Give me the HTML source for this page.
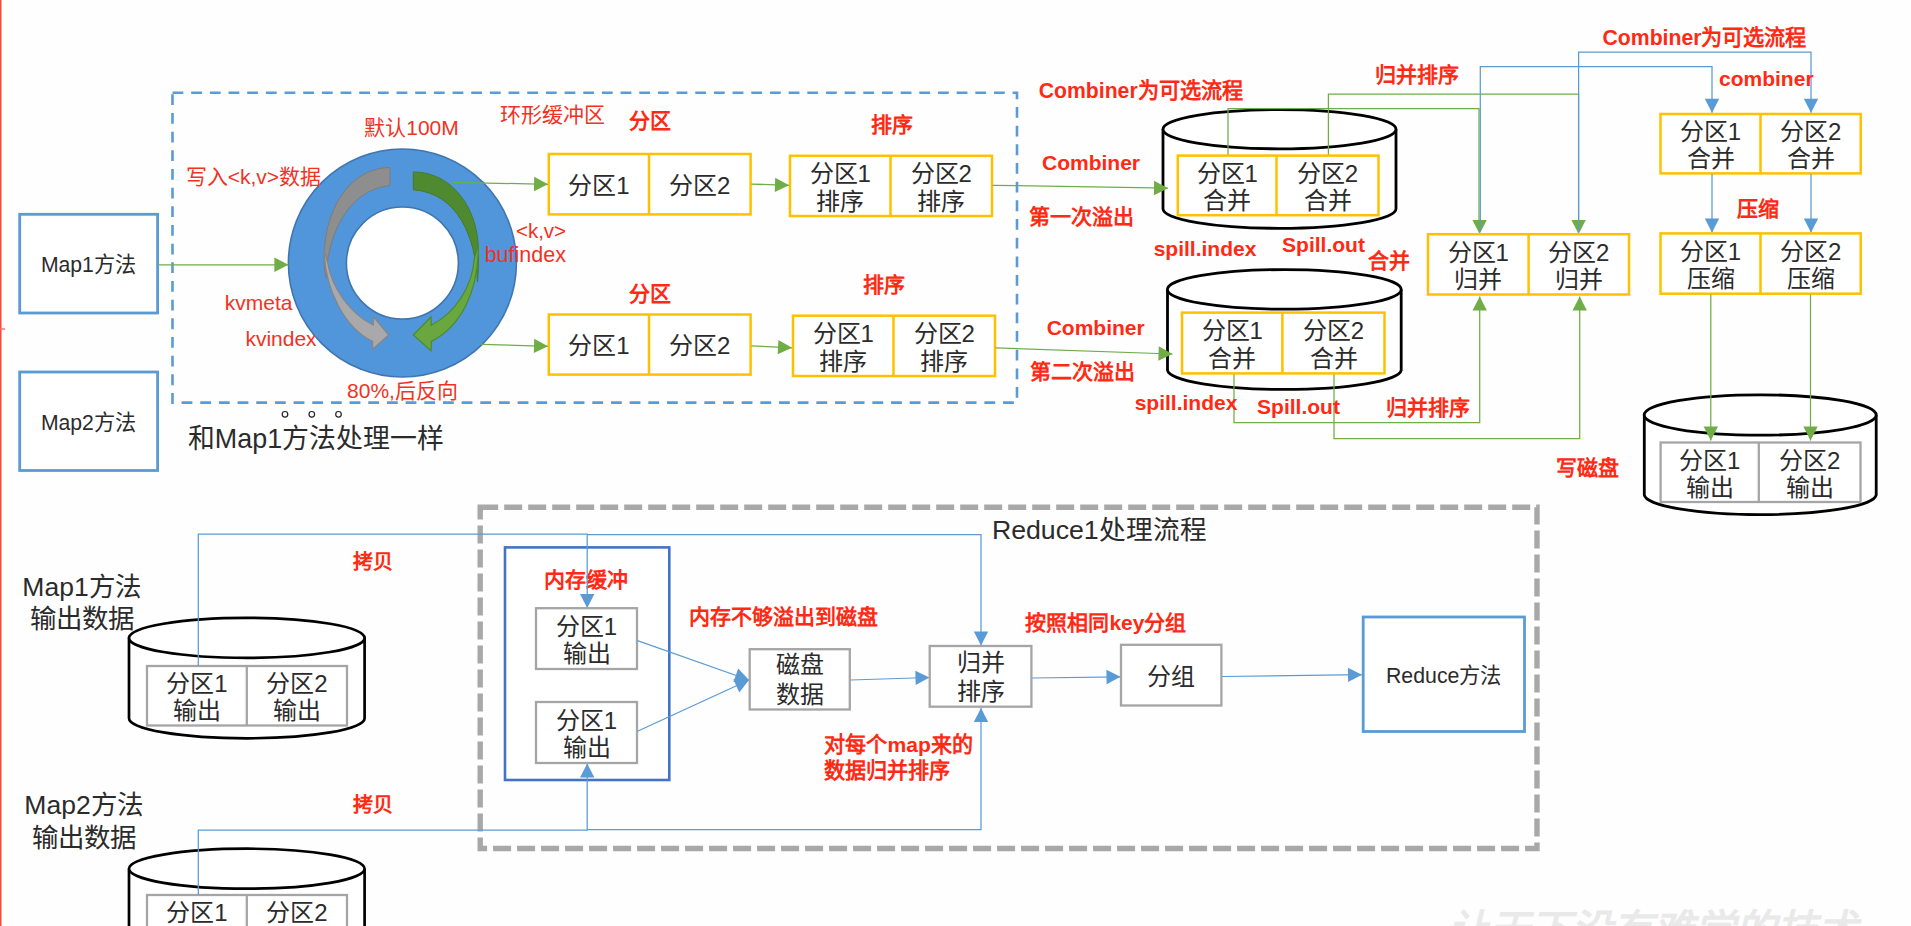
<!DOCTYPE html>
<html lang="zh-CN"><head><meta charset="utf-8"><title>MapReduce Shuffle</title>
<style>
html,body{margin:0;padding:0;background:#fefefe;overflow:hidden}
svg{display:block;font-family:"Liberation Sans",sans-serif}
</style></head><body>
<svg width="1911" height="926" viewBox="0 0 1911 926">
<rect width="1911" height="926" fill="#fefefe"/>
<rect x="0" y="0" width="1.5" height="926" fill="#FF4438"/>
<rect x="0" y="328.3" width="5" height="1.4" fill="#FF6A60"/>
<rect x="172.5" y="92.7" width="844.5" height="309.9" fill="none" stroke="#5B9BD5" stroke-width="2.6" stroke-dasharray="10.8 7.87"/>
<rect x="19.7" y="214.3" width="137.9" height="98.7" fill="#fff" stroke="#5B9BD5" stroke-width="2.8" />
<text x="88.4" y="272.1" font-size="21.2" fill="#2b2b2b" text-anchor="middle">Map1方法</text>
<rect x="19.7" y="372.0" width="137.9" height="98.5" fill="#fff" stroke="#5B9BD5" stroke-width="2.8" />
<text x="88.4" y="430.1" font-size="21.2" fill="#2b2b2b" text-anchor="middle">Map2方法</text>
<circle cx="402.4" cy="263" r="114" fill="#5196DA" stroke="#3F76B0" stroke-width="1.6"/>
<circle cx="402.4" cy="263" r="56" fill="#fff" stroke="#3F76B0" stroke-width="1.6"/>
<path d="M390,167.4 C352,168 325,205 324,257 C324,266 324.5,272 326,278 C327,240 345,190 390,185.5 Z" fill="#8E8E8E" stroke="#7C7C7C" stroke-width="1"/>
<path d="M324,250 C325,290 345,328 372.6,341.4 L372.6,349.3 L388.7,335 L373.3,316.5 L373.2,325 C352,315 332,290 327.5,262 Z" fill="#A9A9AC" stroke="#858585" stroke-width="1.2"/>
<path d="M413.3,171.9 C452,172 478,208 478.4,250 C478.6,262 478.3,272 477.5,282 C476,238 458,193 413.3,189.8 Z" fill="#4F8A30" stroke="#447A29" stroke-width="1"/>
<path d="M478.4,245 C478.6,290 462,326 431.4,341.4 L431,350.8 L413.3,335 L431,317 L431.2,325.2 C455,313 472,288 474.5,258 Z" fill="#6AA83F" stroke="#4B8A2C" stroke-width="1.2"/>
<rect x="548.8" y="154.0" width="201.8" height="60.4" fill="#fff" stroke="#FFC000" stroke-width="2.5" />
<line x1="649.0" y1="154.0" x2="649.0" y2="214.4" stroke="#FFC000" stroke-width="2.5"/>
<text x="598.9" y="193.7" font-size="24" fill="#2b2b2b" text-anchor="middle">分区1</text>
<text x="699.8" y="193.7" font-size="24" fill="#2b2b2b" text-anchor="middle">分区2</text>
<rect x="790.0" y="155.8" width="202.0" height="60.2" fill="#fff" stroke="#FFC000" stroke-width="2.5" />
<line x1="890.5" y1="155.8" x2="890.5" y2="216.0" stroke="#FFC000" stroke-width="2.5"/>
<text x="840.2" y="182.3" font-size="24" fill="#2b2b2b" text-anchor="middle">分区1</text>
<text x="840.2" y="209.5" font-size="24" fill="#2b2b2b" text-anchor="middle">排序</text>
<text x="941.2" y="182.3" font-size="24" fill="#2b2b2b" text-anchor="middle">分区2</text>
<text x="941.2" y="209.5" font-size="24" fill="#2b2b2b" text-anchor="middle">排序</text>
<rect x="548.8" y="314.5" width="201.8" height="60.1" fill="#fff" stroke="#FFC000" stroke-width="2.5" />
<line x1="649.0" y1="314.5" x2="649.0" y2="374.6" stroke="#FFC000" stroke-width="2.5"/>
<text x="598.9" y="354.1" font-size="24" fill="#2b2b2b" text-anchor="middle">分区1</text>
<text x="699.8" y="354.1" font-size="24" fill="#2b2b2b" text-anchor="middle">分区2</text>
<rect x="793.0" y="315.7" width="202.0" height="60.3" fill="#fff" stroke="#FFC000" stroke-width="2.5" />
<line x1="893.5" y1="315.7" x2="893.5" y2="376.0" stroke="#FFC000" stroke-width="2.5"/>
<text x="843.2" y="342.3" font-size="24" fill="#2b2b2b" text-anchor="middle">分区1</text>
<text x="843.2" y="369.5" font-size="24" fill="#2b2b2b" text-anchor="middle">排序</text>
<text x="944.2" y="342.3" font-size="24" fill="#2b2b2b" text-anchor="middle">分区2</text>
<text x="944.2" y="369.5" font-size="24" fill="#2b2b2b" text-anchor="middle">排序</text>
<polyline points="158.0,264.8 288.4,264.8" fill="none" stroke="#70AD47" stroke-width="1.25" />
<polygon points="288.4,264.8 274.4,272.0 274.4,257.6" fill="#70AD47"/>
<polyline points="452.0,182.3 548.0,184.3" fill="none" stroke="#70AD47" stroke-width="1.25" />
<polygon points="548.0,184.3 533.9,191.2 534.2,176.8" fill="#70AD47"/>
<polyline points="481.0,344.3 548.0,346.3" fill="none" stroke="#70AD47" stroke-width="1.25" />
<polygon points="548.0,346.3 533.8,353.1 534.2,338.7" fill="#70AD47"/>
<polyline points="751.5,184.1 789.0,185.3" fill="none" stroke="#70AD47" stroke-width="1.25" />
<polygon points="789.0,185.3 774.8,192.0 775.2,177.7" fill="#70AD47"/>
<polyline points="751.5,345.9 792.0,347.8" fill="none" stroke="#70AD47" stroke-width="1.25" />
<polygon points="792.0,347.8 777.7,354.3 778.4,340.0" fill="#70AD47"/>
<path d="M1163.0,129.2 V208.7 A116.5,19.6 0 0 0 1396.0,208.7 V129.2" fill="#fff" stroke="#000" stroke-width="2.8"/>
<ellipse cx="1279.5" cy="129.2" rx="116.5" ry="19.6" fill="#fff" stroke="#000" stroke-width="2.8"/>
<path d="M1167.5,289.4 V370.2 A116.9,19.8 0 0 0 1401.2,370.2 V289.4" fill="#fff" stroke="#000" stroke-width="2.8"/>
<ellipse cx="1284.3" cy="289.4" rx="116.9" ry="19.8" fill="#fff" stroke="#000" stroke-width="2.8"/>
<polyline points="1228.0,156.0 1228.0,108.6 1479.0,108.6 1479.0,225.0" fill="none" stroke="#70AD47" stroke-width="1.25" />
<polyline points="1328.4,156.0 1328.4,94.0 1578.6,94.0 1578.6,225.0" fill="none" stroke="#70AD47" stroke-width="1.25" />
<rect x="1177.8" y="155.6" width="200.7" height="59.6" fill="#fff" stroke="#FFC000" stroke-width="2.5" />
<line x1="1276.5" y1="155.6" x2="1276.5" y2="215.2" stroke="#FFC000" stroke-width="2.5"/>
<text x="1227.2" y="181.8" font-size="24" fill="#2b2b2b" text-anchor="middle">分区1</text>
<text x="1227.2" y="209.0" font-size="24" fill="#2b2b2b" text-anchor="middle">合并</text>
<text x="1327.5" y="181.8" font-size="24" fill="#2b2b2b" text-anchor="middle">分区2</text>
<text x="1327.5" y="209.0" font-size="24" fill="#2b2b2b" text-anchor="middle">合并</text>
<polyline points="1234.0,373.0 1234.0,422.5 1479.7,422.5 1479.7,296.5" fill="none" stroke="#70AD47" stroke-width="1.25" />
<polygon points="1479.7,296.5 1486.9,310.5 1472.5,310.5" fill="#70AD47"/>
<polyline points="1334.0,373.0 1334.0,438.5 1579.7,438.5 1579.7,296.5" fill="none" stroke="#70AD47" stroke-width="1.25" />
<polygon points="1579.7,296.5 1586.9,310.5 1572.5,310.5" fill="#70AD47"/>
<rect x="1182.0" y="312.6" width="202.5" height="60.8" fill="#fff" stroke="#FFC000" stroke-width="2.5" />
<line x1="1282.4" y1="312.6" x2="1282.4" y2="373.4" stroke="#FFC000" stroke-width="2.5"/>
<text x="1232.2" y="339.4" font-size="24" fill="#2b2b2b" text-anchor="middle">分区1</text>
<text x="1232.2" y="366.6" font-size="24" fill="#2b2b2b" text-anchor="middle">合并</text>
<text x="1333.5" y="339.4" font-size="24" fill="#2b2b2b" text-anchor="middle">分区2</text>
<text x="1333.5" y="366.6" font-size="24" fill="#2b2b2b" text-anchor="middle">合并</text>
<polyline points="992.5,185.3 1168.0,188.2" fill="none" stroke="#70AD47" stroke-width="1.25" />
<polygon points="1168.0,188.2 1153.9,195.2 1154.1,180.8" fill="#70AD47"/>
<polyline points="995.5,347.8 1172.5,354.0" fill="none" stroke="#70AD47" stroke-width="1.25" />
<polygon points="1172.5,354.0 1158.3,360.7 1158.8,346.3" fill="#70AD47"/>
<polyline points="1480.3,225.0 1480.3,66.6 1712.0,66.6 1712.0,112.8" fill="none" stroke="#5B9BD5" stroke-width="1.25" />
<polygon points="1712.0,112.8 1704.8,98.8 1719.2,98.8" fill="#5B9BD5"/>
<polyline points="1578.6,225.0 1578.6,52.0 1811.0,52.0 1811.0,112.8" fill="none" stroke="#5B9BD5" stroke-width="1.25" />
<polygon points="1811.0,112.8 1803.8,98.8 1818.2,98.8" fill="#5B9BD5"/>
<polygon points="1479.6,234.0 1472.4,220.0 1486.8,220.0" fill="#70AD47"/>
<polygon points="1578.6,234.0 1571.4,220.0 1585.8,220.0" fill="#70AD47"/>
<polyline points="1480.3,220.0 1480.3,232.0" fill="none" stroke="#5B9BD5" stroke-width="1.2" />
<polyline points="1578.6,220.0 1578.6,232.0" fill="none" stroke="#5B9BD5" stroke-width="1.2" />
<rect x="1428.0" y="234.2" width="201.0" height="60.3" fill="#fff" stroke="#FFC000" stroke-width="2.5" />
<line x1="1528.6" y1="234.2" x2="1528.6" y2="294.5" stroke="#FFC000" stroke-width="2.5"/>
<text x="1478.3" y="260.8" font-size="24" fill="#2b2b2b" text-anchor="middle">分区1</text>
<text x="1478.3" y="288.0" font-size="24" fill="#2b2b2b" text-anchor="middle">归并</text>
<text x="1578.8" y="260.8" font-size="24" fill="#2b2b2b" text-anchor="middle">分区2</text>
<text x="1578.8" y="288.0" font-size="24" fill="#2b2b2b" text-anchor="middle">归并</text>
<rect x="1660.5" y="114.0" width="200.2" height="59.4" fill="#fff" stroke="#FFC000" stroke-width="2.5" />
<line x1="1760.5" y1="114.0" x2="1760.5" y2="173.4" stroke="#FFC000" stroke-width="2.5"/>
<text x="1710.5" y="140.1" font-size="24" fill="#2b2b2b" text-anchor="middle">分区1</text>
<text x="1710.5" y="167.3" font-size="24" fill="#2b2b2b" text-anchor="middle">合并</text>
<text x="1810.6" y="140.1" font-size="24" fill="#2b2b2b" text-anchor="middle">分区2</text>
<text x="1810.6" y="167.3" font-size="24" fill="#2b2b2b" text-anchor="middle">合并</text>
<polyline points="1712.0,174.0 1712.0,232.5" fill="none" stroke="#5B9BD5" stroke-width="1.25" />
<polygon points="1712.0,232.5 1704.8,218.5 1719.2,218.5" fill="#5B9BD5"/>
<polyline points="1811.0,174.0 1811.0,232.5" fill="none" stroke="#5B9BD5" stroke-width="1.25" />
<polygon points="1811.0,232.5 1803.8,218.5 1818.2,218.5" fill="#5B9BD5"/>
<rect x="1660.5" y="233.4" width="200.2" height="60.3" fill="#fff" stroke="#FFC000" stroke-width="2.5" />
<line x1="1760.5" y1="233.4" x2="1760.5" y2="293.7" stroke="#FFC000" stroke-width="2.5"/>
<text x="1710.5" y="260.0" font-size="24" fill="#2b2b2b" text-anchor="middle">分区1</text>
<text x="1710.5" y="287.2" font-size="24" fill="#2b2b2b" text-anchor="middle">压缩</text>
<text x="1810.6" y="260.0" font-size="24" fill="#2b2b2b" text-anchor="middle">分区2</text>
<text x="1810.6" y="287.2" font-size="24" fill="#2b2b2b" text-anchor="middle">压缩</text>
<path d="M1644.3,415.0 V495.0 A116.0,20.2 0 0 0 1876.2,495.0 V415.0" fill="#fff" stroke="#000" stroke-width="2.8"/>
<ellipse cx="1760.2" cy="415.0" rx="116.0" ry="20.2" fill="#fff" stroke="#000" stroke-width="2.8"/>
<rect x="1660.6" y="442.5" width="199.9" height="59.5" fill="#fff" stroke="#A5A5A5" stroke-width="2.3" />
<line x1="1758.8" y1="442.5" x2="1758.8" y2="502.0" stroke="#A5A5A5" stroke-width="2.3"/>
<text x="1709.7" y="468.7" font-size="24" fill="#2b2b2b" text-anchor="middle">分区1</text>
<text x="1709.7" y="495.9" font-size="24" fill="#2b2b2b" text-anchor="middle">输出</text>
<text x="1809.7" y="468.7" font-size="24" fill="#2b2b2b" text-anchor="middle">分区2</text>
<text x="1809.7" y="495.9" font-size="24" fill="#2b2b2b" text-anchor="middle">输出</text>
<polyline points="1710.8,294.5 1710.8,440.5" fill="none" stroke="#70AD47" stroke-width="1.25" />
<polygon points="1710.8,440.5 1703.6,426.5 1718.0,426.5" fill="#70AD47"/>
<polyline points="1810.5,294.5 1810.5,440.5" fill="none" stroke="#70AD47" stroke-width="1.25" />
<polygon points="1810.5,440.5 1803.3,426.5 1817.7,426.5" fill="#70AD47"/>
<text x="411.5" y="134.6" font-size="21" fill="#F2321E" text-anchor="middle">默认100M</text>
<text x="253.4" y="184.2" font-size="21" fill="#F2321E" text-anchor="middle">写入&lt;k,v&gt;数据</text>
<text x="552.2" y="122.2" font-size="21" fill="#F2321E" text-anchor="middle">环形缓冲区</text>
<text x="650.0" y="127.9" font-size="21" fill="#FF2A14" text-anchor="middle" font-weight="bold">分区</text>
<text x="892.0" y="132.4" font-size="21" fill="#FF2A14" text-anchor="middle" font-weight="bold">排序</text>
<text x="650.0" y="300.6" font-size="21" fill="#FF2A14" text-anchor="middle" font-weight="bold">分区</text>
<text x="884.0" y="292.3" font-size="21" fill="#FF2A14" text-anchor="middle" font-weight="bold">排序</text>
<text x="541.0" y="238.0" font-size="20.5" fill="#F2321E" text-anchor="middle">&lt;k,v&gt;</text>
<text x="525.3" y="261.7" font-size="21.5" fill="#F2321E" text-anchor="middle">bufindex</text>
<text x="258.7" y="309.6" font-size="21" fill="#F2321E" text-anchor="middle">kvmeta</text>
<text x="281.0" y="345.9" font-size="21" fill="#F2321E" text-anchor="middle">kvindex</text>
<text x="402.5" y="397.8" font-size="21" fill="#F2321E" text-anchor="middle">80%,后反向</text>
<circle cx="285" cy="414.3" r="2.8" fill="#fff" stroke="#222" stroke-width="1.2"/>
<circle cx="311.8" cy="414.3" r="2.8" fill="#fff" stroke="#222" stroke-width="1.2"/>
<circle cx="338.5" cy="414.3" r="2.8" fill="#fff" stroke="#222" stroke-width="1.2"/>
<text x="316.0" y="448.2" font-size="26.9" fill="#2b2b2b" text-anchor="middle">和Map1方法处理一样</text>
<text x="1140.7" y="98.1" font-size="21.2" fill="#FF2A14" text-anchor="middle" font-weight="bold">Combiner为可选流程</text>
<text x="1091.0" y="170.1" font-size="21" fill="#FF2A14" text-anchor="middle" font-weight="bold">Combiner</text>
<text x="1081.0" y="223.6" font-size="21" fill="#FF2A14" text-anchor="middle" font-weight="bold">第一次溢出</text>
<text x="1205.0" y="256.3" font-size="21" fill="#FF2A14" text-anchor="middle" font-weight="bold">spill.index</text>
<text x="1323.5" y="251.9" font-size="21" fill="#FF2A14" text-anchor="middle" font-weight="bold">Spill.out</text>
<text x="1389.0" y="268.2" font-size="21" fill="#FF2A14" text-anchor="middle" font-weight="bold">合并</text>
<text x="1417.0" y="81.6" font-size="21" fill="#FF2A14" text-anchor="middle" font-weight="bold">归并排序</text>
<text x="1095.7" y="335.1" font-size="21" fill="#FF2A14" text-anchor="middle" font-weight="bold">Combiner</text>
<text x="1082.0" y="379.3" font-size="21" fill="#FF2A14" text-anchor="middle" font-weight="bold">第二次溢出</text>
<text x="1186.0" y="409.6" font-size="21" fill="#FF2A14" text-anchor="middle" font-weight="bold">spill.index</text>
<text x="1298.5" y="413.6" font-size="21" fill="#FF2A14" text-anchor="middle" font-weight="bold">Spill.out</text>
<text x="1427.7" y="414.6" font-size="21" fill="#FF2A14" text-anchor="middle" font-weight="bold">归并排序</text>
<text x="1704.5" y="45.1" font-size="21.2" fill="#FF2A14" text-anchor="middle" font-weight="bold">Combiner为可选流程</text>
<text x="1766.3" y="86.4" font-size="21" fill="#FF2A14" text-anchor="middle" font-weight="bold">combiner</text>
<text x="1758.4" y="216.4" font-size="21" fill="#FF2A14" text-anchor="middle" font-weight="bold">压缩</text>
<text x="1587.7" y="475.4" font-size="21" fill="#FF2A14" text-anchor="middle" font-weight="bold">写磁盘</text>
<rect x="480.2" y="507.2" width="1056.8" height="341.3" fill="none" stroke="#A8A8A8" stroke-width="5.4" stroke-dasharray="18 6"/>
<text x="1099.3" y="538.6" font-size="26.7" fill="#2b2b2b" text-anchor="middle">Reduce1处理流程</text>
<rect x="505.0" y="547.4" width="164.3" height="232.6" fill="#fff" stroke="#4472C4" stroke-width="2.6" />
<text x="585.6" y="587.1" font-size="21" fill="#FF2A14" text-anchor="middle" font-weight="bold">内存缓冲</text>
<text x="81.5" y="596.0" font-size="26.5" fill="#2b2b2b" text-anchor="middle">Map1方法</text>
<text x="81.5" y="628.0" font-size="26.5" fill="#2b2b2b" text-anchor="middle">输出数据</text>
<path d="M129.0,637.9 V718.3 A117.8,20.0 0 0 0 364.6,718.3 V637.9" fill="#fff" stroke="#000" stroke-width="2.7"/>
<ellipse cx="246.8" cy="637.9" rx="117.8" ry="20.0" fill="#fff" stroke="#000" stroke-width="2.7"/>
<rect x="147.0" y="666.0" width="200.0" height="59.5" fill="#fff" stroke="#A5A5A5" stroke-width="2.3" />
<line x1="246.8" y1="666.0" x2="246.8" y2="725.5" stroke="#A5A5A5" stroke-width="2.3"/>
<text x="196.9" y="692.2" font-size="24" fill="#2b2b2b" text-anchor="middle">分区1</text>
<text x="196.9" y="719.4" font-size="24" fill="#2b2b2b" text-anchor="middle">输出</text>
<text x="296.9" y="692.2" font-size="24" fill="#2b2b2b" text-anchor="middle">分区2</text>
<text x="296.9" y="719.4" font-size="24" fill="#2b2b2b" text-anchor="middle">输出</text>
<text x="83.5" y="814.1" font-size="26.5" fill="#2b2b2b" text-anchor="middle">Map2方法</text>
<text x="83.5" y="846.5" font-size="26.5" fill="#2b2b2b" text-anchor="middle">输出数据</text>
<path d="M129.0,868.7 V960.0 A117.8,20.0 0 0 0 364.6,960.0 V868.7" fill="#fff" stroke="#000" stroke-width="2.7"/>
<ellipse cx="246.8" cy="868.7" rx="117.8" ry="20.0" fill="#fff" stroke="#000" stroke-width="2.7"/>
<rect x="147.0" y="895.0" width="200.0" height="60.0" fill="#fff" stroke="#A5A5A5" stroke-width="2.3" />
<line x1="246.8" y1="895.0" x2="246.8" y2="955.0" stroke="#A5A5A5" stroke-width="2.3"/>
<text x="196.9" y="921.4" font-size="24" fill="#2b2b2b" text-anchor="middle">分区1</text>
<text x="196.9" y="948.6" font-size="24" fill="#2b2b2b" text-anchor="middle">输出</text>
<text x="296.9" y="921.4" font-size="24" fill="#2b2b2b" text-anchor="middle">分区2</text>
<text x="296.9" y="948.6" font-size="24" fill="#2b2b2b" text-anchor="middle">输出</text>
<polyline points="198.3,666.0 198.3,534.0 587.2,534.0 587.2,608.0" fill="none" stroke="#5B9BD5" stroke-width="1.25" />
<polygon points="587.2,608.0 580.0,594.0 594.4,594.0" fill="#5B9BD5"/>
<polyline points="587.2,534.5 981.0,534.5 981.0,645.5" fill="none" stroke="#5B9BD5" stroke-width="1.25" />
<polygon points="981.0,645.5 973.8,631.5 988.2,631.5" fill="#5B9BD5"/>
<polyline points="198.3,895.0 198.3,830.0 587.2,830.0 587.2,763.5" fill="none" stroke="#5B9BD5" stroke-width="1.25" />
<polygon points="587.2,763.5 594.4,777.5 580.0,777.5" fill="#5B9BD5"/>
<polyline points="587.2,829.5 981.0,829.5 981.0,708.0" fill="none" stroke="#5B9BD5" stroke-width="1.25" />
<polygon points="981.0,708.0 988.2,722.0 973.8,722.0" fill="#5B9BD5"/>
<text x="373.0" y="568.8" font-size="20" fill="#FF2A14" text-anchor="middle" font-weight="bold">拷贝</text>
<text x="373.0" y="811.8" font-size="20" fill="#FF2A14" text-anchor="middle" font-weight="bold">拷贝</text>
<rect x="536.0" y="608.2" width="101.0" height="60.8" fill="#fff" stroke="#A5A5A5" stroke-width="2.3" />
<text x="586.5" y="635.0" font-size="24" fill="#2b2b2b" text-anchor="middle">分区1</text>
<text x="586.5" y="662.2" font-size="24" fill="#2b2b2b" text-anchor="middle">输出</text>
<rect x="536.0" y="702.0" width="101.0" height="61.0" fill="#fff" stroke="#A5A5A5" stroke-width="2.3" />
<text x="586.5" y="728.9" font-size="24" fill="#2b2b2b" text-anchor="middle">分区1</text>
<text x="586.5" y="756.1" font-size="24" fill="#2b2b2b" text-anchor="middle">输出</text>
<polyline points="637.5,640.6 749.0,680.0" fill="none" stroke="#5B9BD5" stroke-width="1.25" />
<polygon points="749.0,680.0 733.4,682.1 738.2,668.5" fill="#5B9BD5"/>
<polyline points="637.5,731.3 749.0,680.0" fill="none" stroke="#5B9BD5" stroke-width="1.25" />
<polygon points="749.0,680.0 739.3,692.4 733.3,679.3" fill="#5B9BD5"/>
<rect x="749.7" y="649.2" width="100.1" height="60.3" fill="#fff" stroke="#A5A5A5" stroke-width="2.3" />
<text x="799.8" y="673.4" font-size="24" fill="#2b2b2b" text-anchor="middle">磁盘</text>
<text x="799.8" y="703.2" font-size="24" fill="#2b2b2b" text-anchor="middle">数据</text>
<polyline points="850.5,680.0 929.5,677.5" fill="none" stroke="#5B9BD5" stroke-width="1.25" />
<polygon points="929.5,677.5 915.7,685.1 915.3,670.7" fill="#5B9BD5"/>
<rect x="929.7" y="646.0" width="101.7" height="60.7" fill="#fff" stroke="#A5A5A5" stroke-width="2.3" />
<text x="980.6" y="671.4" font-size="24" fill="#2b2b2b" text-anchor="middle">归并</text>
<text x="980.6" y="700.2" font-size="24" fill="#2b2b2b" text-anchor="middle">排序</text>
<polyline points="1032.0,678.0 1120.5,676.8" fill="none" stroke="#5B9BD5" stroke-width="1.25" />
<polygon points="1120.5,676.8 1106.6,684.2 1106.4,669.8" fill="#5B9BD5"/>
<rect x="1121.0" y="644.8" width="100.4" height="60.7" fill="#fff" stroke="#A5A5A5" stroke-width="2.3" />
<text x="1171.2" y="684.7" font-size="24" fill="#2b2b2b" text-anchor="middle">分组</text>
<polyline points="1222.0,676.5 1362.0,674.7" fill="none" stroke="#5B9BD5" stroke-width="1.25" />
<polygon points="1362.0,674.7 1348.1,682.1 1347.9,667.7" fill="#5B9BD5"/>
<rect x="1363.2" y="617.0" width="161.3" height="114.5" fill="#fff" stroke="#5B9BD5" stroke-width="2.8" />
<text x="1443.7" y="683.2" font-size="21.3" fill="#2b2b2b" text-anchor="middle">Reduce方法</text>
<text x="783.3" y="624.0" font-size="21" fill="#FF2A14" text-anchor="middle" font-weight="bold">内存不够溢出到磁盘</text>
<text x="1105.9" y="629.6" font-size="21" fill="#FF2A14" text-anchor="middle" font-weight="bold">按照相同key分组</text>
<text x="824.4" y="752.0" font-size="21.1" fill="#FF2A14" text-anchor="start" font-weight="bold">对每个map来的</text>
<text x="824.4" y="777.9" font-size="21.1" fill="#FF2A14" text-anchor="start" font-weight="bold">数据归并排序</text>
<text x="1653.0" y="943.8" font-size="41" fill="#E9E9E9" text-anchor="middle" font-weight="bold" font-style="italic">让天下没有难学的技术</text>
</svg>
</body></html>
